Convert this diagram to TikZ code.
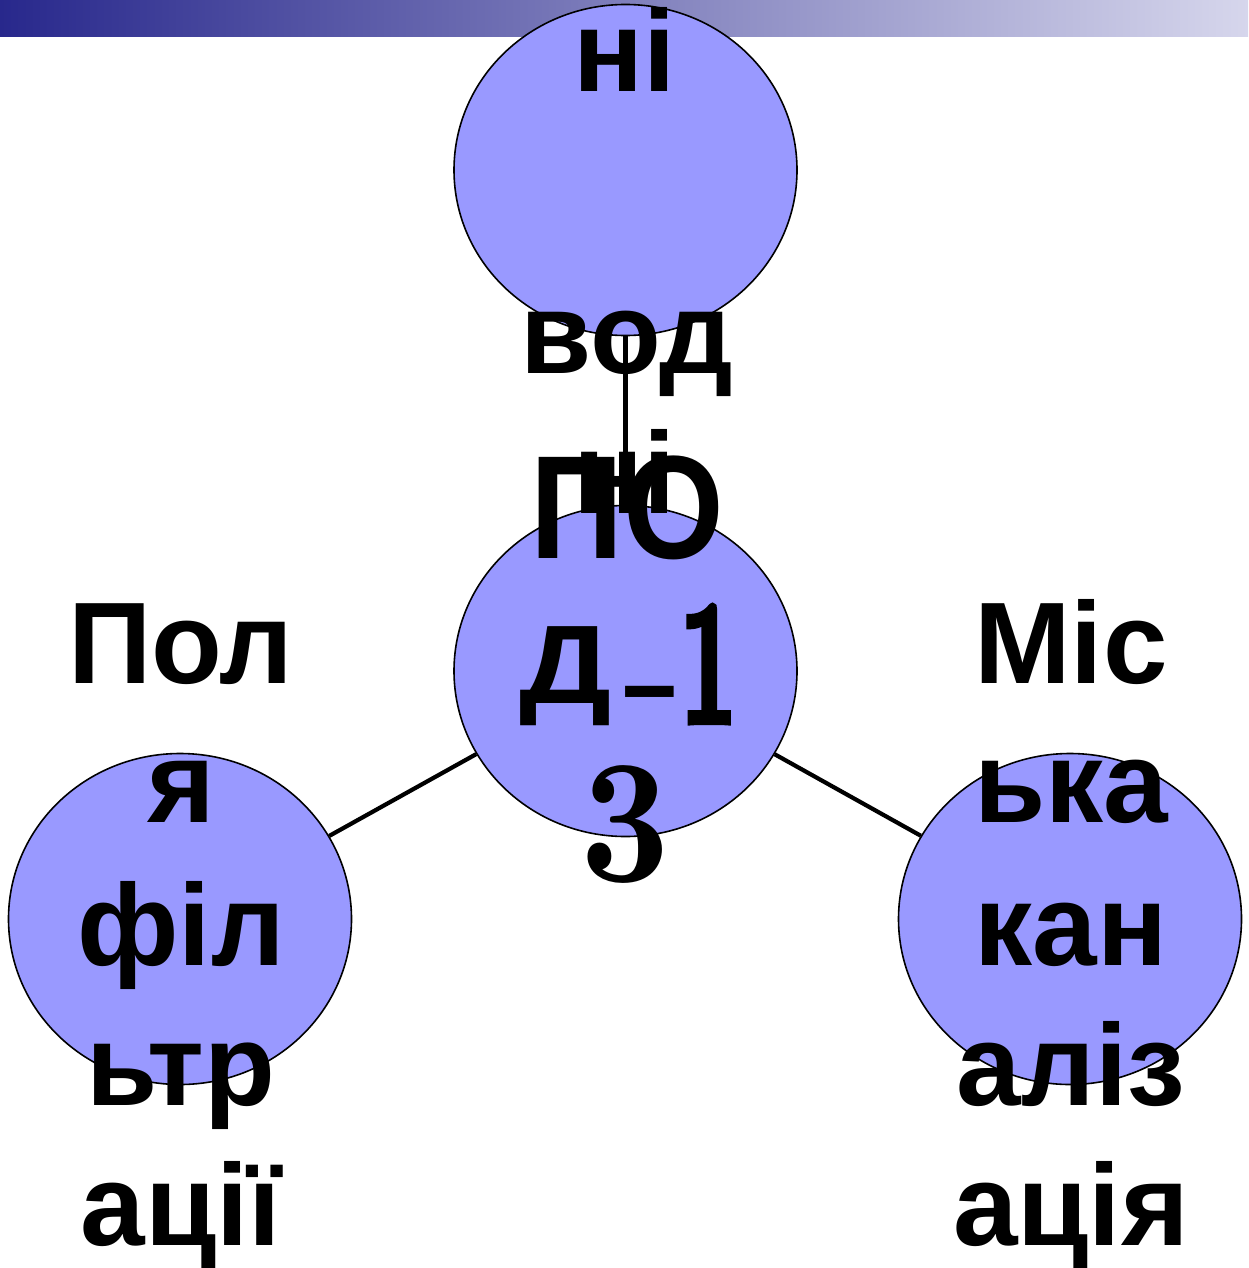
\documentclass[tikz,border=0pt]{standalone}
\usepackage{fontspec}
\setmainfont{Liberation Sans}
\newfontfamily\ctrfont[FakeStretch=0.88]{Liberation Sans}
\newfontfamily\digfont{lmroman10-bold.otf}
\newfontfamily\digheavy[FakeBold=4]{lmroman10-bold.otf}
\usetikzlibrary{shapes.geometric}
\definecolor{barL}{RGB}{40,40,140}
\definecolor{barR}{RGB}{214,214,236}
\definecolor{disc}{RGB}{153,153,255}
\tikzset{
  disk/.style={ellipse, draw=black, line width=1.6pt, fill=disc, inner sep=0pt,
    minimum width=343pt, minimum height=331pt},
  link/.style={draw=black, line width=4.2pt},
  txt/.style={anchor=base, inner sep=0pt, font=\bfseries\fontsize{116}{140}\selectfont},
  ctrtxt/.style={anchor=base, inner sep=0pt, font=\ctrfont\bfseries\fontsize{147}{170}\selectfont},
  digtxt/.style={anchor=base, inner sep=0pt, font=\digfont\fontsize{177}{190}\selectfont}
}
\begin{document}
\begin{tikzpicture}[x=1pt,y=-1pt]
\useasboundingbox (0,0) rectangle (1248,1268);
\shade[left color=barL, right color=barR] (0,0) rectangle (1248,37);
% circles
\node[disk] (top) at (625.5,170) {};
\node[disk] (ctr) at (625.5,671) {};
\node[disk] (lft) at (180,919) {};
\node[disk] (rgt) at (1070,919) {};
% connectors
\draw[link] (top) -- (ctr);
\draw[link] (ctr) -- (lft);
\draw[link] (ctr) -- (rgt);
% top text
\node[txt] (t1) at (625,92) {ні};
\node[txt] (t2) at (627,373) {вод};
\node[txt] (t3) at (625,513) {ні};
% centre text
\node[ctrtxt] (c1) at (627,558) {ПО};
\node[ctrtxt] (c2) at (565.5,703) {\scalebox{1}[0.76]{Д}};
\node[digtxt] (c2b) at (680,722) {\raisebox{5pt}{\scalebox{0.9}[0.65]{-}}\hspace{-4pt}{\digheavy\scalebox{0.56}[1]{1}}};
\node[digtxt] (c3) at (625.5,881) {\scalebox{0.88}[1]{3}};
% left text
\node[txt] (l1) at (181,683) {Пол};
\node[txt] (l2) at (181,822) {я};
\node[txt] (l3) at (181,965) {філ};
\node[txt] (l4) at (181,1105) {ьтр};
\node[txt] (l5) at (181,1245) {ації};
% right text
\node[txt] (r1) at (1071,683) {Міс};
\node[txt] (r2) at (1071,822) {ька};
\node[txt] (r3) at (1071,965) {кан};
\node[txt] (r4) at (1071,1105) {аліз};
\node[txt] (r5) at (1071,1245) {ація};
\end{tikzpicture}
\end{document}
